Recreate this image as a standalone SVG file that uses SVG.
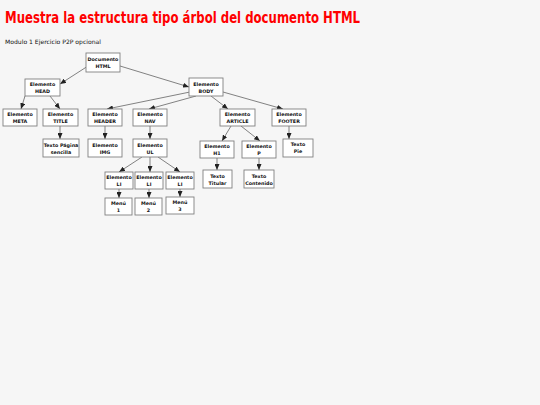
<svg xmlns="http://www.w3.org/2000/svg" width="540" height="405" viewBox="0 0 540 405">
<defs>
<marker id="arr" markerUnits="userSpaceOnUse" markerWidth="6" markerHeight="5" refX="6" refY="2.5" orient="auto">
<path d="M0,0 L6,2.5 L0,5 Z" fill="#222"/>
</marker>
<style>
.bx{fill:#fff;stroke:#808080;stroke-width:0.9}
.t{font-family:"DejaVu Sans",Verdana,sans-serif;font-weight:bold;font-size:4.8px;fill:#111;text-anchor:middle}
.c line{stroke:#333;stroke-width:0.6;marker-end:url(#arr)}
</style>
</defs>
<rect width="540" height="405" fill="#f6f6f6"/>
<text x="5" y="23" font-family="'DejaVu Sans',sans-serif" font-weight="bold" font-size="15" fill="#f00" textLength="355" lengthAdjust="spacingAndGlyphs">Muestra la estructura tipo árbol del documento HTML</text>
<text x="5" y="44" font-family="'DejaVu Sans',sans-serif" font-size="6" fill="#111" textLength="96" lengthAdjust="spacingAndGlyphs">Modulo 1 Ejercicio P2P opcional</text>
<g class="c">
<line x1="88" y1="66" x2="60" y2="84"/>
<line x1="120" y1="66" x2="189" y2="87"/>
<line x1="25" y1="96" x2="21" y2="109"/>
<line x1="50" y1="96" x2="60" y2="109"/>
<line x1="60" y1="126" x2="60" y2="139"/>
<line x1="190" y1="92" x2="107" y2="109"/>
<line x1="196" y1="96" x2="149" y2="109"/>
<line x1="211" y1="96" x2="228" y2="109"/>
<line x1="223" y1="92" x2="283" y2="109"/>
<line x1="105" y1="126" x2="105" y2="139"/>
<line x1="150" y1="126" x2="150" y2="139"/>
<line x1="142" y1="157" x2="119" y2="172"/>
<line x1="150" y1="157" x2="150" y2="172"/>
<line x1="158" y1="157" x2="180" y2="172"/>
<line x1="119" y1="189" x2="119" y2="198"/>
<line x1="149" y1="189" x2="149" y2="198"/>
<line x1="180" y1="189" x2="180" y2="197"/>
<line x1="231" y1="126" x2="222" y2="141"/>
<line x1="241" y1="126" x2="260" y2="141"/>
<line x1="289" y1="126" x2="289" y2="139"/>
<line x1="217" y1="158" x2="217" y2="170"/>
<line x1="259" y1="158" x2="259" y2="170"/>
</g>
<g id="doc"><rect class="bx" x="86" y="53" width="34" height="19"/><text class="t" x="103" y="61">Documento</text><text class="t" x="103" y="68">HTML</text></g>
<g id="head"><rect class="bx" x="25" y="79" width="35" height="17"/><text class="t" x="42.5" y="86">Elemento</text><text class="t" x="42.5" y="93">HEAD</text></g>
<g id="body"><rect class="bx" x="189" y="78" width="34" height="18"/><text class="t" x="206" y="85.5">Elemento</text><text class="t" x="206" y="92.5">BODY</text></g>
<g id="meta"><rect class="bx" x="3" y="109" width="34" height="17"/><text class="t" x="20" y="116">Elemento</text><text class="t" x="20" y="123">META</text></g>
<g id="title"><rect class="bx" x="43" y="109" width="35" height="17"/><text class="t" x="60.5" y="116">Elemento</text><text class="t" x="60.5" y="123">TITLE</text></g>
<g id="header"><rect class="bx" x="88" y="109" width="34" height="17"/><text class="t" x="105" y="116">Elemento</text><text class="t" x="105" y="123">HEADER</text></g>
<g id="nav"><rect class="bx" x="133" y="109" width="34" height="17"/><text class="t" x="150" y="116">Elemento</text><text class="t" x="150" y="123">NAV</text></g>
<g id="article"><rect class="bx" x="220" y="109" width="35" height="17"/><text class="t" x="237.5" y="116">Elemento</text><text class="t" x="237.5" y="123">ARTICLE</text></g>
<g id="footer"><rect class="bx" x="272" y="109" width="34" height="17"/><text class="t" x="289" y="116">Elemento</text><text class="t" x="289" y="123">FOOTER</text></g>
<g id="texto-pagina"><rect class="bx" x="43" y="139" width="36" height="18"/><text class="t" x="61" y="146.5">Texto Página</text><text class="t" x="61" y="153.5">sencilla</text></g>
<g id="img"><rect class="bx" x="88" y="139" width="34" height="18"/><text class="t" x="105" y="146.5">Elemento</text><text class="t" x="105" y="153.5">IMG</text></g>
<g id="ul"><rect class="bx" x="133" y="139" width="34" height="18"/><text class="t" x="150" y="146.5">Elemento</text><text class="t" x="150" y="153.5">UL</text></g>
<g id="h1"><rect class="bx" x="200" y="141" width="34" height="17"/><text class="t" x="217" y="148">Elemento</text><text class="t" x="217" y="155">H1</text></g>
<g id="p"><rect class="bx" x="242" y="141" width="34" height="17"/><text class="t" x="259" y="148">Elemento</text><text class="t" x="259" y="155">P</text></g>
<g id="pie"><rect class="bx" x="283" y="139" width="30" height="18"/><text class="t" x="298" y="146">Texto</text><text class="t" x="298" y="153">Pie</text></g>
<g id="li1"><rect class="bx" x="105" y="172" width="28" height="17"/><text class="t" x="119" y="179">Elemento</text><text class="t" x="119" y="186">LI</text></g>
<g id="li2"><rect class="bx" x="135" y="172" width="28" height="17"/><text class="t" x="149" y="179">Elemento</text><text class="t" x="149" y="186">LI</text></g>
<g id="li3"><rect class="bx" x="166" y="172" width="28" height="17"/><text class="t" x="180" y="179">Elemento</text><text class="t" x="180" y="186">LI</text></g>
<g id="menu1"><rect class="bx" x="105" y="198" width="27" height="17"/><text class="t" x="118.5" y="205">Menú</text><text class="t" x="118.5" y="212">1</text></g>
<g id="menu2"><rect class="bx" x="135" y="198" width="27" height="17"/><text class="t" x="148.5" y="205">Menú</text><text class="t" x="148.5" y="212">2</text></g>
<g id="menu3"><rect class="bx" x="166" y="197" width="28" height="17"/><text class="t" x="180" y="204">Menú</text><text class="t" x="180" y="211">3</text></g>
<g id="titular"><rect class="bx" x="203" y="170" width="29" height="18"/><text class="t" x="217.5" y="177.5">Texto</text><text class="t" x="217.5" y="184.5">Titular</text></g>
<g id="contenido"><rect class="bx" x="244" y="170" width="30" height="18"/><text class="t" x="259" y="177.5">Texto</text><text class="t" x="259" y="184.5">Contenido</text></g>
</svg>
